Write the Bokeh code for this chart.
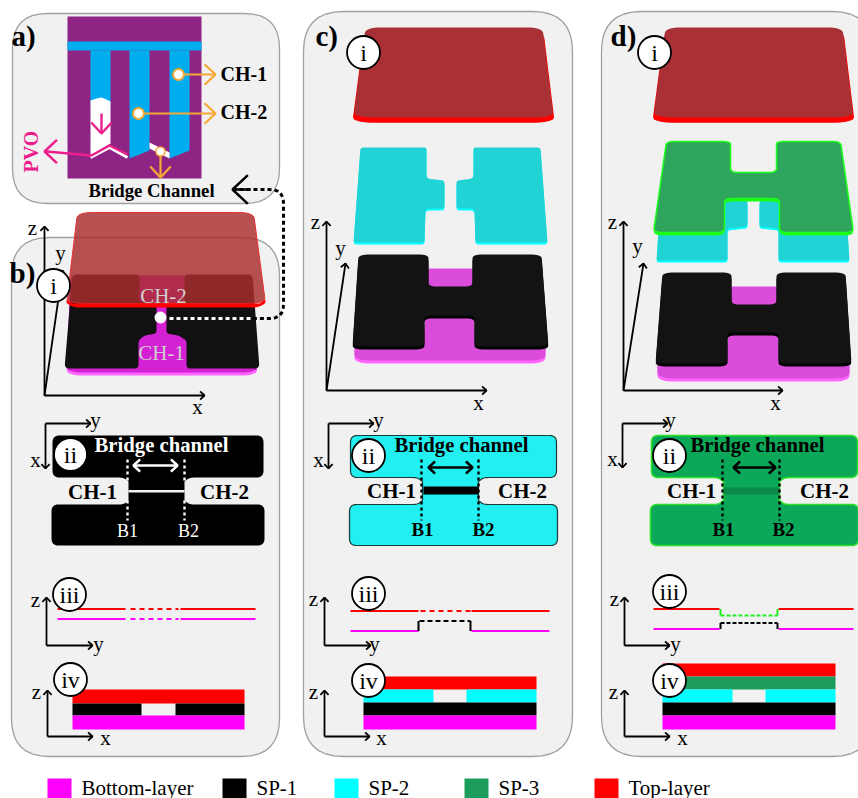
import math
from bokeh.plotting import figure
from bokeh.models import Range1d
from bokeh.core.properties import value
from bokeh.embed import file_html
from bokeh.resources import INLINE

FONT = "Liberation Serif"
# ---------- colours
PANEL = "#f1f1f1"; PANEL_EDGE = "#a0a0a0"
MAG = "#ff00ff"; BLK = "#000000"; CYAN = "#00ffff"; GRN3 = "#1b9c5b"; RED = "#ff0000"
ORANGE = "#f7a833"; PINK = "#ec1e8c"; PURPLE = "#8e2585"; BLUE = "#00aeef"

# ---------- panels: x0, y0, x1, y1, radius
panels = [(12, 13, 279, 203, 35), (11, 237, 279, 756, 38), (303, 11, 572, 756, 40), (601, 11, 872, 756, 40)]

# ---------- legend
legend_labels = ["Bottom-layer", "SP-1", "SP-2", "SP-3", "Top-layer"]
legend_colors = [MAG, BLK, CYAN, GRN3, RED]
legend_x = [47, 222, 334, 464, 594]

# ---------- panel a picture
a_back = [(67, 16), (201, 16), (201, 178), (67, 178)]
a_band = [(67, 41), (201, 41), (201, 50), (67, 50)]
a_fingers = [[(90, 50), (110, 50), (110, 105), (90, 105)],
             [(129, 50), (149, 50), (149, 150), (129, 158)],
             [(169, 50), (189, 50), (189, 150), (169, 158)]]
a_white = [[(90, 100), (96, 98), (101, 97), (106, 99), (110, 101), (110, 143), (90, 155)],
           [(149, 142), (169, 152), (169, 158), (149, 148)]]
a_pvo_white = [(90, 157), (109, 147), (127, 157)]
a_pvo_line = [(46, 151), (91, 155), (109, 145), (127, 154)]
a_link = [(232, 189), (283, 189, 14), (283, 318, 14), (250, 318)]
a_link_white = [(250, 318), (168, 318)]

# ---------- layered shapes: (x, y, corner radius) or (x, y, radius in, radius out)
b_bottom = [(70, 275, 6), (250, 275, 6), (257, 372, 6, 18), (66, 372, 18, 6)]
b_black = [(72, 274, 5), (139, 274, 4), (139, 300, 0), (156, 305, 0), (156, 333, 3), (144, 335, 3), (138, 340, 3), (138, 368, 4),
           (64, 368, 5)]
b_black_r = [(184, 274, 4), (252, 274, 5), (259, 368, 5), (186, 368, 4), (186, 340, 3), (178, 335, 3), (166, 333, 3), (166, 305, 0), (184, 300, 0)]
b_top = [(77, 212, 6, 16), (253, 212, 16, 6), (265, 303, 6, 20), (66, 303, 20, 6)]
b_top_edge = [(66, 299), (72, 303), (259, 303), (265, 299), (265, 303, 4), (257, 307, 5), (74, 307, 5), (66, 303, 4)]

c_top = [(365, 27, 6, 16), (542, 27, 16, 6), (553, 117, 6, 22), (353, 117, 22, 6)]
c_sp2_l = [(360, 147, 3), (426, 147, 2), (426, 178, 4), (444, 180, 3), (444, 208, 3), (425, 208, 4), (424, 242, 3), (353, 242, 3)]
c_sp2_r = [(473, 147, 2), (540, 147, 3), (547, 242, 3), (475, 242, 3), (474, 208, 4), (456, 208, 3), (456, 180, 3), (473, 178, 4)]
c_bottom = [(428, 268, 0), (472, 268, 0), (474, 330, 0), (545, 330, 0), (545, 360, 6, 18), (354, 360, 18, 6), (354, 330, 0), (424, 330, 0)]
c_black = [(358, 254, 4, 12), (428, 254, 10, 4), (428, 286, 4, 8), (472, 286, 8, 4), (472, 254, 4, 10), (541, 254, 12, 4),
           (548, 346, 4, 12), (474, 346, 10, 4), (474, 315, 4, 8), (424, 315, 8, 4), (424, 346, 4, 10), (352, 346, 12, 4)]

d_top = [(665, 27, 6, 16), (842, 27, 16, 6), (853, 117, 6, 22), (653, 117, 22, 6)]
d_sp3 = [(666, 141, 4, 8), (730, 141, 8, 3), (730, 172, 4, 8), (776, 172, 8, 4), (776, 141, 3, 8), (840, 141, 8, 4), (853, 232, 4, 10), (779, 232, 10, 4),
         (779, 198, 4, 8), (724, 198, 8, 4), (724, 232, 4, 10), (653, 232, 10, 4)]
d_sp2_l = [(660, 200, 0), (747, 200, 3), (747, 226, 3), (727, 228, 3), (727, 260, 3), (656, 260, 3)]
d_sp2_r = [(759, 200, 3), (845, 200, 0), (849, 260, 3), (778, 260, 3), (778, 228, 3), (759, 226, 3)]
d_bottom = [(731, 286, 0), (776, 286, 0), (778, 345, 0), (849, 345, 0), (849, 378, 6, 18), (657, 378, 18, 6), (657, 345, 0), (727, 345, 0)]
d_black = [(662, 272, 4, 12), (731, 272, 10, 4), (731, 304, 4, 8), (776, 304, 8, 4), (776, 272, 4, 10), (845, 272, 12, 4),
           (851, 363, 4, 12), (778, 363, 10, 4), (778, 332, 4, 8), (727, 332, 8, 4), (727, 363, 4, 10), (655, 363, 12, 4)]


def plan(x0, x1, nx0, nx1):
    """Plan-view outline (panel ii): two bars joined by a narrow neck."""
    f = 3
    return [(x0, 435, 7), (x1, 435, 7), (x1, 477, 7), (nx1 + f + 2, 477, 5), (nx1, 481, 0),
            (nx1, 500, 0), (nx1 + f + 2, 504, 5), (x1 + 1, 504, 7), (x1 + 1, 545, 7), (x0 - 1, 545, 7),
            (x0 - 1, 504, 7), (nx0 - f - 2, 504, 5), (nx0, 500, 0), (nx0, 481, 0), (nx0 - f - 2, 477, 5),
            (x0, 477, 7)]


b_plan = plan(52, 263, 128, 184)
c_plan = plan(350, 556, 422, 478)
d_plan = plan(651, 857, 723, 779)

# ---------- section iii lines: x-pairs and y
iii_b = dict(red=[(57, 125), (180, 255)], red_y=608.5, mag=[(57, 125), (180, 255)], mag_y=618.5, dash_x=(130, 178))
iii_c = dict(red=[(350, 418), (471, 549)], red_y=610.5, mag=[(350, 418), (471, 549)], mag_y=630.5, dash_x=(420, 470))
iii_d = dict(red=[(653, 719), (778, 853)], red_y=608.5, mag=[(653, 719), (778, 853)], mag_y=628.5, dash_x=(720, 778))

# ---------- section iv stacks: (colour, x0, x1, y0, y1)
iv_b = [(RED, 72, 244, 689, 703), (BLK, 72, 141, 703, 715), (BLK, 175, 244, 703, 715), (MAG, 72, 244, 715, 729)]
iv_c = [(RED, 363, 536, 676, 689), (CYAN, 363, 433, 689, 702), (CYAN, 466, 536, 689, 702), (BLK, 363, 536, 702, 715), (MAG, 363, 536, 715, 729)]
iv_d = [(RED, 662, 835, 663, 676), (GRN3, 662, 835, 676, 689), (CYAN, 662, 732, 689, 702), (CYAN, 765, 835, 689, 702),
        (BLK, 662, 835, 702, 715), (MAG, 662, 835, 715, 729)]

# ---------- axis triads: origin, z tip, x tip, y tip
axes3d = [(44, 395, 226, 204, (62, 270)), (326, 390, 221, 486, (345, 263)), (623, 390, 221, 782, (643, 263))]
# corner, x-end of y arrow, y-end of x arrow
axes_ii = [(45, 423, 90, 468), (328, 423, 373, 468), (622, 423, 667, 467)]
# x, ytop, ybottom, xright
axes_zy = [(46, 597, 645, 92), (324, 597, 645, 370), (624, 597, 645, 669), (47, 690, 736, 92), (324, 690, 736, 369), (624, 690, 736, 669)]

# ---------- numbered circles: x, y, label
circles = [(53, 285, "i"), (70, 454, "ii"), (69, 594, "iii"), (70, 679, "iv"),
           (363, 52, "i"), (368, 455, "ii"), (368, 593, "iii"), (368, 680, "iv"),
           (654, 52, "i"), (669, 455, "ii"), (669, 591, "iii"), (669, 680, "iv")]

# ---------- texts: label, x, y, size, colour, style, align
AX = 21
texts = [
    ("a)", 11, 35, 29, BLK, "bold", "left"), ("b)", 9, 272, 29, BLK, "bold", "left"),
    ("c)", 315, 35, 29, BLK, "bold", "left"), ("d)", 610, 35, 29, BLK, "bold", "left"),
    ("CH-1", 220, 73, 20, BLK, "bold", "left"), ("CH-2", 220, 111, 20, BLK, "bold", "left"),
    ("Bridge Channel", 151, 190, 18.7, BLK, "bold", "center"),
    ("CH-2", 163, 295, 21, "#d0d0d0", "normal", "center"), ("CH-1", 161, 352, 21, "#d0d0d0", "normal", "center"),
    ("Bridge channel", 161, 444, 20.7, "#ffffff", "bold", "center"),
    ("CH-1", 92, 491, 21, BLK, "bold", "center"), ("CH-2", 224, 491, 21, BLK, "bold", "center"),
    ("B1", 127, 530, 18, "#ffffff", "normal", "center"), ("B2", 188, 530, 18, "#ffffff", "normal", "center"),
    ("Bridge channel", 461, 444, 20.7, BLK, "bold", "center"),
    ("CH-1", 391, 490, 21, BLK, "bold", "center"), ("CH-2", 522, 490, 21, BLK, "bold", "center"),
    ("B1", 422, 529, 19, BLK, "bold", "center"), ("B2", 483, 529, 19, BLK, "bold", "center"),
    ("Bridge channel", 757, 444, 20.7, BLK, "bold", "center"),
    ("CH-1", 691, 490, 21, BLK, "bold", "center"), ("CH-2", 824, 490, 21, BLK, "bold", "center"),
    ("B1", 723, 529, 19, BLK, "bold", "center"), ("B2", 783, 529, 19, BLK, "bold", "center"),
    ("z", 32, 227, AX, BLK, "normal", "center"), ("y", 60, 252, AX, BLK, "normal", "center"), ("x", 197, 406, AX, BLK, "normal", "center"),
    ("z", 315, 221, AX, BLK, "normal", "center"), ("y", 340, 247, AX, BLK, "normal", "center"), ("x", 478, 402, AX, BLK, "normal", "center"),
    ("z", 612, 221, AX, BLK, "normal", "center"), ("y", 637, 245, AX, BLK, "normal", "center"), ("x", 775, 402, AX, BLK, "normal", "center"),
    ("y", 95, 419, AX, BLK, "normal", "center"), ("x", 35, 459, AX, BLK, "normal", "center"),
    ("y", 378, 419, AX, BLK, "normal", "center"), ("x", 318, 459, AX, BLK, "normal", "center"),
    ("y", 670, 419, AX, BLK, "normal", "center"), ("x", 612, 458, AX, BLK, "normal", "center"),
    ("z", 35, 599, AX, BLK, "normal", "center"), ("y", 98, 643, AX, BLK, "normal", "center"),
    ("z", 313, 598, AX, BLK, "normal", "center"), ("y", 374, 643, AX, BLK, "normal", "center"),
    ("z", 614, 598, AX, BLK, "normal", "center"), ("y", 675, 643, AX, BLK, "normal", "center"),
    ("z", 36, 691, AX, BLK, "normal", "center"), ("x", 105, 737, AX, BLK, "normal", "center"),
    ("z", 313, 691, AX, BLK, "normal", "center"), ("x", 381, 737, AX, BLK, "normal", "center"),
    ("z", 613, 691, AX, BLK, "normal", "center"), ("x", 682, 737, AX, BLK, "normal", "center"),
]

p = figure(width=858, height=798, output_backend="svg", toolbar_location=None,
           x_range=Range1d(0, 858), y_range=Range1d(798, 0), min_border=0,
           background_fill_color="#ffffff")
p.axis.visible = False
p.grid.visible = False
p.outline_line_color = None


def round_path(pts, closed=True):
    norm = []
    for q in pts:
        if len(q) == 2:
            norm.append((q[0], q[1], 0, 0))
        elif len(q) == 3:
            norm.append((q[0], q[1], q[2], q[2]))
        else:
            norm.append(q)
    out = []
    n = len(norm)
    for i, (x, y, ri, ro) in enumerate(norm):
        if (not closed and i in (0, n - 1)) or (ri <= 0 and ro <= 0):
            out.append((x, y))
            continue
        ax, ay = norm[(i - 1) % n][:2]
        bx, by = norm[(i + 1) % n][:2]
        la = math.hypot(ax - x, ay - y) or 1
        lb = math.hypot(bx - x, by - y) or 1
        ra = min(ri, la / 2)
        rb = min(ro, lb / 2)
        s = (x + (ax - x) * ra / la, y + (ay - y) * ra / la)
        e = (x + (bx - x) * rb / lb, y + (by - y) * rb / lb)
        for k in range(9):
            t = k / 8
            out.append(((1 - t) ** 2 * s[0] + 2 * t * (1 - t) * x + t ** 2 * e[0],
                        (1 - t) ** 2 * s[1] + 2 * t * (1 - t) * y + t ** 2 * e[1]))
    return [q[0] for q in out], [q[1] for q in out]


def poly(pts, fill, alpha=1.0, line=None, lw=1, dy=0, dx=0):
    xs, ys = round_path(pts)
    p.patch([v + dx for v in xs], [v + dy for v in ys], fill_color=fill, fill_alpha=alpha,
            line_color=line, line_width=lw)


def line(pts, color, lw=2, dash="solid", alpha=1.0):
    xs, ys = round_path(pts, closed=False)
    p.line(xs, ys, line_color=color, line_width=lw, line_dash=dash, line_alpha=alpha)


def rect(x0, x1, y0, y1, color):
    p.quad(left=[x0], right=[x1], top=[y0], bottom=[y1], fill_color=color, line_color=None)


def arrow(x0, y0, x1, y1, color=BLK, lw=2, size=6, both=False):
    p.line([x0, x1], [y0, y1], line_color=color, line_width=lw)
    ends = [(x0, y0, x1, y1)] + ([(x1, y1, x0, y0)] if both else [])
    for ax, ay, bx, by in ends:
        a = math.atan2(by - ay, bx - ax)
        cx = [bx - size * math.cos(a - 0.75), bx, bx - size * math.cos(a + 0.75)]
        cy = [by - size * math.sin(a - 0.75), by, by - size * math.sin(a + 0.75)]
        p.line(cx, cy, line_color=color, line_width=lw)


def label(t, x, y, size, color=BLK, style="normal", align="center"):
    p.text([x], [y], text=[t], text_font=value(FONT), text_font_size=f"{size}px", text_color=color,
           text_font_style=style, text_align=align, text_baseline="middle")


def red_plate(pts):
    poly(pts, RED, dy=5, dx=1.2)
    poly(pts, RED, dy=5, dx=-1.2)
    poly(pts, "#a93135")


# panels
for x0, y0, x1, y1, r in panels:
    poly([(x0, y0, r), (x1, y0, r), (x1, y1, r), (x0, y1, r)], PANEL, line=PANEL_EDGE, lw=1.3)

# panel a
poly(a_back, PURPLE)
poly(a_band, BLUE)
for f in a_fingers:
    poly(f, BLUE)
for w in a_white:
    poly(w, "#ffffff")
line(a_pvo_white, "#ffffff", 3)
line(a_pvo_line, PINK, 2.4)
arrow(46, 151, 44, 151, PINK, 2.4, 17)
arrow(101, 113, 101, 133, PINK, 2.4, 15)
arrow(178, 74, 215, 74, ORANGE, 2.2, 15)
arrow(138, 113, 215, 113, ORANGE, 2.2, 15)
arrow(160, 151, 160, 177, ORANGE, 2.2, 15)
p.scatter([178, 138], [74, 113], size=11, fill_color="#ffffff", line_color=ORANGE, line_width=2)
p.scatter([160], [151], size=9, fill_color="#ffffff", line_color=ORANGE, line_width=1.5)
p.text([30], [151], text=["PVO"], angle=[math.pi / 2], text_font=value(FONT), text_font_size="20px",
       text_color=PINK, text_font_style="bold", text_align="center", text_baseline="middle")

# panel b 3-D stack
poly(b_bottom, "#ff66ff", dy=3)
poly(b_bottom, "#d321d3")
poly(b_black, "#111111")
poly(b_black_r, "#111111")
poly(b_top, "#a92e2e", alpha=0.83, line="#e83030", lw=1, )
poly(b_top_edge, RED)

# panel c 3-D stack
red_plate(c_top)
for s in (c_sp2_l, c_sp2_r):
    poly(s, "#00ffff", dy=2)
    poly(s, "#22d3d6")
poly(c_bottom, "#ff66ff", dy=3)
poly(c_bottom, "#da4cda")
poly(c_black, BLK, dy=3)
poly(c_black, "#131313")

# panel d 3-D stack
red_plate(d_top)
for s in (d_sp2_l, d_sp2_r):
    poly(s, "#00ffff", dy=2)
    poly(s, "#22d3d6")
poly(d_sp3, "#1aff1a", dy=3)
poly(d_sp3, "#2fa45c", line="#1aff1a", lw=1.5)
poly(d_bottom, "#ff66ff", dy=3)
poly(d_bottom, "#da4cda")
poly(d_black, BLK, dy=3)
poly(d_black, "#131313")

# link from the bridge to panel a
line(a_link, BLK, 3, "4 3")
line(a_link_white, "#ffffff", 3, "4 3")
arrow(250, 189, 232, 189, BLK, 2.4, 21)
p.scatter([160], [317], size=11, fill_color="#ffffff", line_color="#ffffff")

# 3-D axes
for ox, oy, zt, xt, yt in axes3d:
    arrow(ox, oy, ox, zt, BLK, 1.8, 6)
    arrow(ox, oy, xt, oy, BLK, 1.8, 6)
    arrow(ox, oy, yt[0], yt[1], BLK, 1.8, 6)

# panel ii plan views
poly(b_plan, BLK)
rect(128, 184, 489.5, 492, "#f4f4f4")
poly(c_plan, "#22f0f0", line="#1b3b3b", lw=1.2)
rect(423, 478, 486, 494, BLK)
poly(d_plan, "#0aa858", line="#28e028", lw=1.6)
rect(723, 779, 487, 494, "#0c8a48")
for xs_, col in (((127, 184), "#ffffff"), ((421, 478), BLK), ((722, 779), BLK)):
    for xv in xs_:
        line([(xv, 459), (xv, 520)] if col == BLK else [(xv, 459), (xv, 480)], col, 2.4, "3 3")
        if col != BLK:
            line([(xv, 500), (xv, 520)], col, 2.4, "3 3")
arrow(133, 465, 177, 465, "#ffffff", 2.6, 9, both=True)
arrow(428, 467, 472, 467, BLK, 2.6, 9, both=True)
arrow(733, 467, 775, 467, BLK, 2.6, 9, both=True)
for cx, cy, xt, yb in axes_ii:
    arrow(cx, cy, xt, cy, BLK, 1.8, 6)
    arrow(cx, cy, cx, yb, BLK, 1.8, 6)

# panel iii section lines
for d in (iii_b, iii_c, iii_d):
    for a, b in d["red"]:
        line([(a, d["red_y"]), (b, d["red_y"])], RED, 2)
    for a, b in d["mag"]:
        line([(a, d["mag_y"]), (b, d["mag_y"])], MAG, 2)
line([(iii_b["dash_x"][0], iii_b["red_y"]), (iii_b["dash_x"][1], iii_b["red_y"])], RED, 2, "5 4")
line([(iii_b["dash_x"][0], iii_b["mag_y"]), (iii_b["dash_x"][1], iii_b["mag_y"])], MAG, 2, "5 4")
line([(iii_c["dash_x"][0], iii_c["red_y"]), (iii_c["dash_x"][1], iii_c["red_y"])], RED, 2, "5 4")
line([(418, 630.5), (418, 620.5)], BLK, 2)
line([(470, 630.5), (470, 620.5)], BLK, 2)
line([(419, 620.5), (470, 620.5)], BLK, 1.8, "5 3")
line([(720, 608.5), (720, 615)], "#22ee22", 2)
line([(777, 608.5), (777, 615)], "#22ee22", 2)
line([(720, 615), (777, 615)], "#22ee22", 2, "4 2")
line([(720, 628.5), (720, 622.5)], BLK, 2)
line([(777, 628.5), (777, 622.5)], BLK, 2)
line([(720, 622.5), (777, 622.5)], BLK, 1.8, "4 2")

# panel iv stacks
for stack in (iv_b, iv_c, iv_d):
    for col, x0, x1, y0, y1 in stack:
        rect(x0, x1, y0, y1, col)

for ax, yt, yb, xr in axes_zy:
    arrow(ax, yb, ax, yt, BLK, 1.8, 6)
    arrow(ax, yb, xr, yb, BLK, 1.8, 6)

# numbered circles
p.scatter([c[0] for c in circles], [c[1] for c in circles], size=33, fill_color="#ffffff", line_color=BLK, line_width=1.8)
for cx, cy, t in circles:
    label(t, cx, cy, 24)

# texts
for t, x, y, s, col, st, al in texts:
    label(t, x, y, s, col, st, al)

# legend
for t, col, x in zip(legend_labels, legend_colors, legend_x):
    rect(x, x + 24, 778, 798, col)
    label(t, x + 34, 787, 21, BLK, "normal", "left")

open("out.html", "w").write(file_html(p, INLINE))
